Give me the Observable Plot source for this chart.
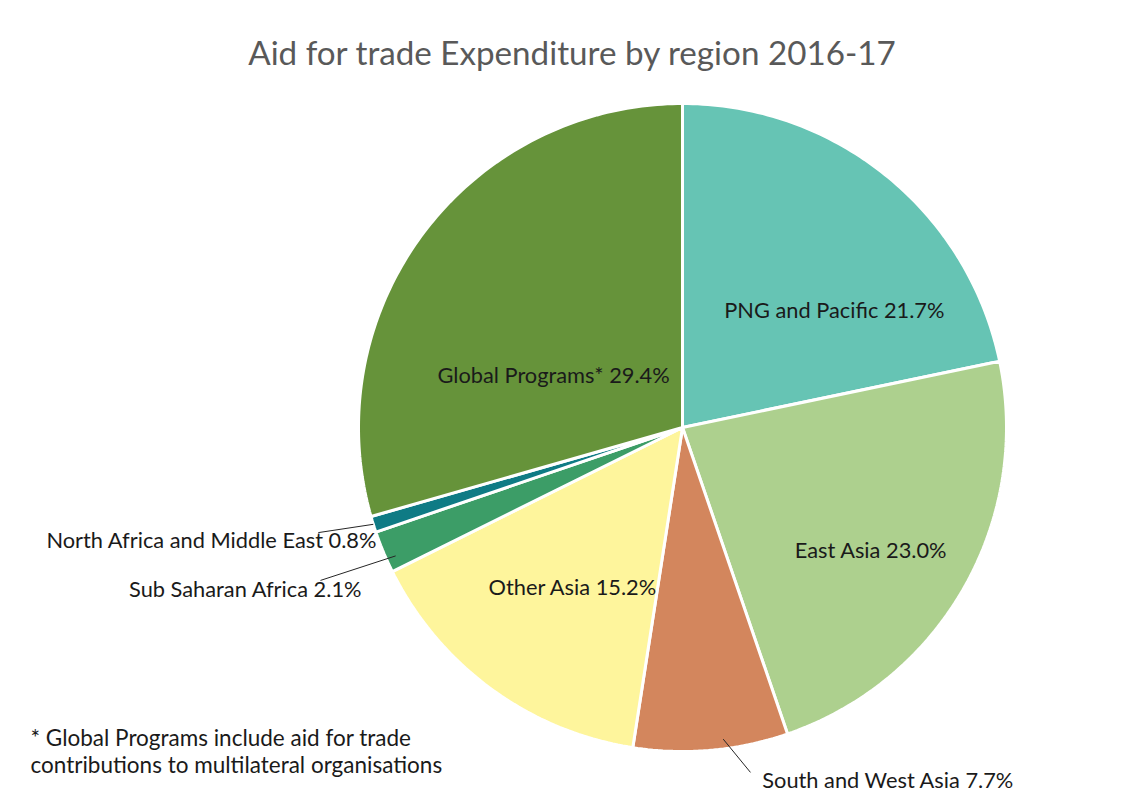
<!DOCTYPE html>
<html><head><meta charset="utf-8">
<script src="https://cdn.jsdelivr.net/npm/d3@7"></script>
<script src="https://cdn.jsdelivr.net/npm/@observablehq/plot@0.6"></script>
<style>body{margin:0;background:#fff;} svg{display:block;}</style>
</head><body><div id="chart"></div>
<script>
// ---- data ----
const regions = ["PNG and Pacific", "East Asia", "South and West Asia", "Other Asia", "Sub Saharan Africa", "North Africa and Middle East", "Global Programs*"];
const shares = [21.7, 23.0, 7.7, 15.2, 2.1, 0.8, 29.4];
const colors = ["#66C4B4", "#ADD08E", "#D3865D", "#FEF59C", "#3C9D67", "#0F7B85", "#66933A"];
const title = "Aid for trade Expenditure by region 2016-17";
const footnote = "* Global Programs include aid for trade\ncontributions to multilateral organisations";

// ---- layout ----
const W = 1129, H = 803, cx = 682, cy = 427, R = 324;
const font = "Lato, 'Open Sans', sans-serif";
// label placement: polar (deg clockwise from top, radius as fraction of R), anchor
const labelLayout = [
  {angle: 52.6, r: 0.59, anchor: "middle"},
  {angle: 123.2, r: 0.694, anchor: "middle"},
  {angle: 167.3, r: 1.12, anchor: "start", lead: {r0: 0.97, angle1: 168.85, r1: 1.085, da: -2.4}},
  {angle: 214.5, r: 0.60, anchor: "middle"},
  {angle: 243.2, r: 1.11, anchor: "end", lead: {r0: 0.97, angle1: 247.1, r1: 1.213, da: -1.5}},
  {angle: 249.7, r: 1.007, anchor: "end", lead: {r0: 1.0, angle1: 253.9, r1: 1.17, da: 0}},
  {angle: 291.9, r: 0.429, anchor: "middle"}
];

const rad = d => d * Math.PI / 180;
const polar = (aDeg, r) => ({x: r * Math.sin(rad(aDeg)), y: r * Math.cos(rad(aDeg))});

const pie = d3.pie().sort(null).value(d => d)(shares);
const slices = [];
pie.forEach((p, i) => {
  const a0 = p.startAngle, a1 = p.endAngle;
  const n = Math.max(4, Math.ceil((a1 - a0) / (Math.PI * 2) * 400));
  slices.push({name: regions[i], color: colors[i], x: 0, y: 0});
  for (let k = 0; k <= n; k++) {
    const a = a0 + (a1 - a0) * k / n;
    slices.push({name: regions[i], color: colors[i], x: Math.sin(a), y: Math.cos(a)});
  }
  slices.push({name: regions[i], color: colors[i], x: 0, y: 0});
});

const labels = regions.map((name, i) => {
  const L = labelLayout[i];
  const p = polar(L.angle, L.r);
  return {text: `${name} ${shares[i].toFixed(1)}%`, anchor: L.anchor, ...p};
});

const leaders = [];
pie.forEach((p, i) => {
  const L = labelLayout[i].lead;
  if (!L) return;
  const mid = (p.startAngle + p.endAngle) / 2 * 180 / Math.PI + L.da;
  const a = polar(mid, L.r0), b = polar(L.angle1, L.r1);
  leaders.push({x1: a.x, y1: a.y, x2: b.x, y2: b.y});
});

const px = v => (v - cx) / R, py = v => (cy - v) / R;
const labelSize = 21.8;

const chart = Plot.plot({
  width: W, height: H,
  margin: 0,
  x: {domain: [px(0), px(W)], range: [0, W], axis: null},
  y: {domain: [py(H), py(0)], range: [H, 0], axis: null},
  color: {type: "identity"},
  style: {fontFamily: font, background: "#fff"},
  marks: [
    Plot.line(slices, {x: "x", y: "y", z: "name", fill: "color", stroke: "#fff", strokeWidth: 3, strokeLinejoin: "miter", curve: "linear"}),
    Plot.link(leaders, {x1: "x1", y1: "y1", x2: "x2", y2: "y2", stroke: "#262626", strokeWidth: 1}),
    Plot.text(labels.filter(d => d.anchor === "middle"), {x: "x", y: "y", text: "text", textAnchor: "middle", fontSize: labelSize, fill: "#1a1a1a"}),
    Plot.text(labels.filter(d => d.anchor === "start"), {x: "x", y: "y", text: "text", textAnchor: "start", fontSize: labelSize, fill: "#1a1a1a"}),
    Plot.text(labels.filter(d => d.anchor === "end"), {x: "x", y: "y", text: "text", textAnchor: "end", fontSize: labelSize, fill: "#1a1a1a"}),
    Plot.text([title], {x: px(571.5), y: py(54), text: d => d, textAnchor: "middle", fontSize: 33.2, fill: "#595959"}),
    Plot.text([footnote], {x: px(30), y: py(726), text: d => d, textAnchor: "start", lineAnchor: "top", lineHeight: 1.2, fontSize: 22.5, fill: "#1a1a1a"})
  ]
});
document.getElementById("chart").appendChild(chart);
</script>
</body></html>
